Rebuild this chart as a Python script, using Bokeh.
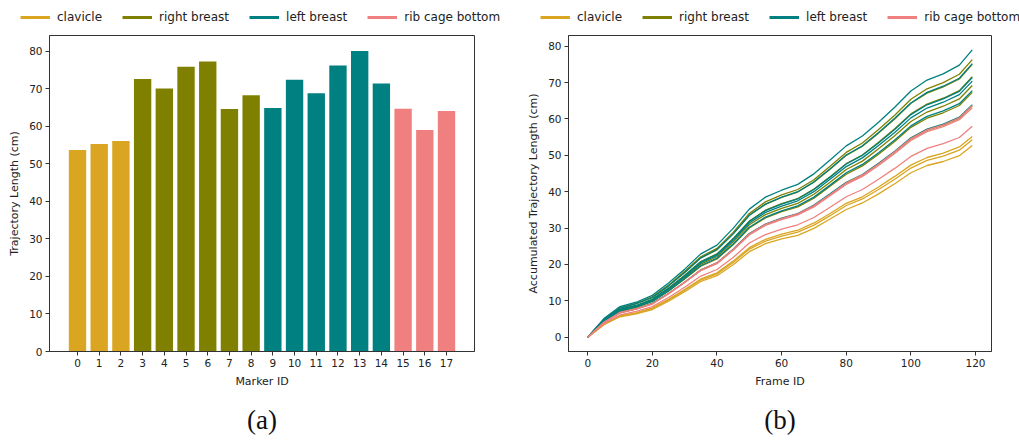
from bokeh.plotting import figure
from bokeh.layouts import row, column
from bokeh.models import FixedTicker, Range1d, Legend, LegendItem, Title
from bokeh.embed import file_html
from bokeh.resources import INLINE

# ---------------- data ----------------
marker_ids = list(range(18))
marker_groups = ["clavicle"] * 3 + ["right breast"] * 6 + ["left breast"] * 6 + ["rib cage bottom"] * 3
traj_len = [53.7, 55.3, 56.1, 72.6, 70.1, 75.9, 77.3, 64.6, 68.3,
            64.9, 72.4, 68.8, 76.2, 80.1, 71.4, 64.7, 59.0, 64.1]
group_names = ["clavicle", "right breast", "left breast", "rib cage bottom"]
group_colors = ["#DAA520", "#808000", "#008080", "#F08080"]

frame_ids = [0, 5, 10, 15, 20, 25, 30, 35, 40, 45, 50, 55, 60, 65, 70, 75, 80, 85, 90, 95, 100, 105, 110, 115, 119]
acc_0 = [0, 3.4, 5.6, 6.4, 7.6, 9.9, 12.5, 15.3, 16.9, 19.9, 23.5, 25.7, 27.0, 28.0, 29.9, 32.5, 35.1, 36.9, 39.4, 42.2, 45.2, 47.2, 48.3, 49.9, 52.7]
acc_1 = [0, 3.5, 5.8, 6.6, 7.9, 10.2, 12.9, 15.7, 17.4, 20.5, 24.2, 26.4, 27.8, 28.9, 30.8, 33.4, 36.2, 38.0, 40.6, 43.4, 46.5, 48.6, 49.8, 51.4, 54.3]
acc_2 = [0, 3.5, 5.9, 6.7, 8.0, 10.4, 13.1, 16.0, 17.7, 20.9, 24.6, 26.9, 28.3, 29.4, 31.4, 34.0, 36.8, 38.6, 41.3, 44.2, 47.3, 49.4, 50.6, 52.3, 55.2]
acc_3 = [0, 4.6, 7.6, 8.7, 10.4, 13.5, 17.0, 20.8, 22.9, 27.1, 31.9, 34.9, 36.7, 38.1, 40.7, 44.1, 47.7, 50.1, 53.6, 57.3, 61.4, 64.1, 65.7, 67.8, 71.6]
acc_4 = [0, 4.4, 7.3, 8.4, 10.0, 13.0, 16.4, 20.1, 22.1, 26.2, 30.9, 33.7, 35.4, 36.8, 39.3, 42.6, 46.1, 48.4, 51.8, 55.4, 59.3, 61.9, 63.5, 65.5, 69.2]
acc_5 = [0, 4.8, 8.0, 9.2, 10.9, 14.1, 17.8, 21.8, 24.0, 28.4, 33.5, 36.5, 38.4, 39.9, 42.6, 46.2, 50.0, 52.5, 56.1, 60.0, 64.3, 67.1, 68.8, 71.0, 75.0]
acc_6 = [0, 4.9, 8.1, 9.3, 11.1, 14.3, 18.1, 22.1, 24.4, 28.8, 34.0, 37.2, 39.1, 40.6, 43.3, 47.0, 50.8, 53.4, 57.1, 61.0, 65.4, 68.3, 70.0, 72.3, 76.3]
acc_7 = [0, 4.1, 6.7, 7.8, 9.2, 12.0, 15.1, 18.4, 20.4, 24.0, 28.4, 31.0, 32.6, 33.8, 36.1, 39.2, 42.4, 44.5, 47.6, 50.9, 54.5, 56.9, 58.3, 60.2, 63.6]
acc_8 = [0, 4.3, 7.1, 8.2, 9.8, 12.7, 16.0, 19.5, 21.5, 25.4, 30.0, 32.8, 34.5, 35.8, 38.2, 41.5, 44.8, 47.1, 50.3, 53.8, 57.7, 60.2, 61.7, 63.7, 67.3]
acc_9 = [0, 4.1, 6.8, 7.8, 9.3, 12.0, 15.1, 18.5, 20.4, 24.2, 28.5, 31.1, 32.7, 34.0, 36.3, 39.4, 42.6, 44.7, 47.8, 51.1, 54.8, 57.2, 58.6, 60.5, 63.9]
acc_10 = [0, 4.6, 7.6, 8.7, 10.4, 13.4, 16.9, 20.7, 22.8, 27.0, 31.8, 34.8, 36.6, 38.0, 40.6, 44.0, 47.6, 50.0, 53.4, 57.1, 61.2, 63.9, 65.5, 67.6, 71.4]
acc_11 = [0, 4.3, 7.2, 8.3, 9.8, 12.7, 16.1, 19.7, 21.7, 25.6, 30.2, 33.0, 34.7, 36.1, 38.5, 41.8, 45.2, 47.5, 50.7, 54.2, 58.1, 60.7, 62.2, 64.2, 67.8]
acc_12 = [0, 4.8, 8.0, 9.2, 10.9, 14.1, 17.8, 21.8, 24.1, 28.4, 33.5, 36.6, 38.5, 40.0, 42.7, 46.3, 50.1, 52.6, 56.3, 60.2, 64.4, 67.3, 69.0, 71.2, 75.2]
acc_13 = [0, 5.1, 8.4, 9.6, 11.5, 14.9, 18.7, 22.9, 25.3, 29.9, 35.2, 38.5, 40.4, 42.0, 44.9, 48.7, 52.6, 55.3, 59.1, 63.2, 67.7, 70.7, 72.4, 74.8, 79.0]
acc_14 = [0, 4.5, 7.5, 8.6, 10.2, 13.2, 16.7, 20.4, 22.5, 26.6, 31.4, 34.3, 36.0, 37.5, 40.0, 43.4, 46.9, 49.3, 52.7, 56.3, 60.3, 63.0, 64.6, 66.7, 70.4]
acc_15 = [0, 4.1, 6.8, 7.8, 9.2, 12.0, 15.1, 18.5, 20.4, 24.1, 28.4, 31.0, 32.6, 33.9, 36.2, 39.2, 42.4, 44.6, 47.6, 51.0, 54.6, 57.0, 58.4, 60.3, 63.7]
acc_16 = [0, 3.7, 6.1, 7.1, 8.4, 10.9, 13.7, 16.8, 18.6, 21.9, 25.9, 28.2, 29.7, 30.9, 32.9, 35.7, 38.6, 40.6, 43.4, 46.4, 49.7, 51.9, 53.2, 54.9, 58.0]
acc_17 = [0, 4.0, 6.7, 7.7, 9.1, 11.9, 15.0, 18.3, 20.2, 23.9, 28.1, 30.7, 32.3, 33.6, 35.8, 38.9, 42.0, 44.2, 47.2, 50.5, 54.1, 56.5, 57.9, 59.8, 63.1]
accumulated = [acc_0, acc_1, acc_2, acc_3, acc_4, acc_5, acc_6, acc_7, acc_8,
               acc_9, acc_10, acc_11, acc_12, acc_13, acc_14, acc_15, acc_16, acc_17]

y_ticks = [0, 10, 20, 30, 40, 50, 60, 70, 80]
frame_ticks = [0, 20, 40, 60, 80, 100, 120]

color_of = dict(zip(group_names, group_colors))
bar_colors = [color_of[g] for g in marker_groups]

FONT = "DejaVu Sans"
AX = "#333333"


def style(p):
    p.outline_line_color = AX
    p.outline_line_width = 1
    p.xgrid.visible = False
    p.ygrid.visible = False
    p.background_fill_color = "white"
    p.border_fill_color = "white"
    for ax in (p.xaxis[0], p.yaxis[0]):
        ax.axis_line_color = AX
        ax.major_tick_line_color = AX
        ax.major_tick_out = 4
        ax.major_tick_in = 0
        ax.minor_tick_line_color = None
        ax.major_label_text_font = FONT
        ax.major_label_text_font_size = "10.5px"
        ax.major_label_text_color = "#222222"
        ax.major_label_standoff = 3
        ax.axis_label_text_font = FONT
        ax.axis_label_text_font_size = "11px"
        ax.axis_label_text_font_style = "normal"
        ax.axis_label_text_color = "#222222"
        ax.axis_label_standoff = 5


def legend_figure(width, loc):
    lf = figure(width=width, height=34, output_backend="svg", toolbar_location=None,
                x_axis_location=None, y_axis_location=None,
                x_range=Range1d(0, 1), y_range=Range1d(0, 1),
                min_border=0, outline_line_color=None)
    lf.xgrid.visible = False
    lf.ygrid.visible = False
    items = []
    for name, col in zip(group_names, group_colors):
        r = lf.line(x=[5, 6], y=[5, 5], line_color=col, line_width=3)
        items.append(LegendItem(label=name, renderers=[r]))
    lg = Legend(items=items, orientation="horizontal", location=loc,
                border_line_alpha=0, background_fill_alpha=0,
                glyph_width=30, glyph_height=14, label_height=14,
                label_standoff=7, spacing=20, padding=0, margin=0,
                label_text_font=FONT, label_text_font_size="12px",
                label_text_color="#222222")
    lf.add_layout(lg, "center")
    return lf


def add_caption(p, text, offset):
    t = Title(text=text, align="center", text_font="Liberation Serif",
              text_font_size="27px", text_font_style="normal",
              text_color="#111111", standoff=25, offset=offset)
    p.add_layout(t, "below")


# ---------------- (a) bar chart ----------------
p1 = figure(width=510, height=413, output_backend="svg", toolbar_location=None,
            x_range=Range1d(-1.29, 18.29), y_range=Range1d(0, 84.2),
            min_border_left=49, min_border_right=36, min_border_top=1, min_border_bottom=96)
p1.vbar(x=marker_ids, top=traj_len, width=0.8, fill_color=bar_colors, line_color=None)
style(p1)
p1.xaxis.ticker = FixedTicker(ticks=marker_ids)
p1.yaxis.ticker = FixedTicker(ticks=y_ticks)
p1.xaxis.axis_label = "Marker ID"
p1.yaxis.axis_label = "Trajectory Length (cm)"
add_caption(p1, "(a)", -6)

# ---------------- (b) accumulated lines ----------------
p2 = figure(width=509, height=413, output_backend="svg", toolbar_location=None,
            x_range=Range1d(-5.95, 124.95), y_range=Range1d(-3.95, 82.95),
            min_border_left=58, min_border_right=28, min_border_top=1, min_border_bottom=96)
for mid, series in zip(marker_ids, accumulated):
    p2.line(x=frame_ids, y=series, line_color=color_of[marker_groups[mid]], line_width=1.3)
style(p2)
p2.xaxis.ticker = FixedTicker(ticks=frame_ticks)
p2.yaxis.ticker = FixedTicker(ticks=y_ticks)
p2.xaxis.axis_label = "Frame ID"
p2.yaxis.axis_label = "Accumulated Trajectory Length (cm)"
add_caption(p2, "(b)", -7)

leg1 = legend_figure(510, (20, 10))
leg2 = legend_figure(509, (30, 10))

layout = column(row(leg1, leg2), row(p1, p2))
open("out.html", "w").write(file_html(layout, INLINE))
